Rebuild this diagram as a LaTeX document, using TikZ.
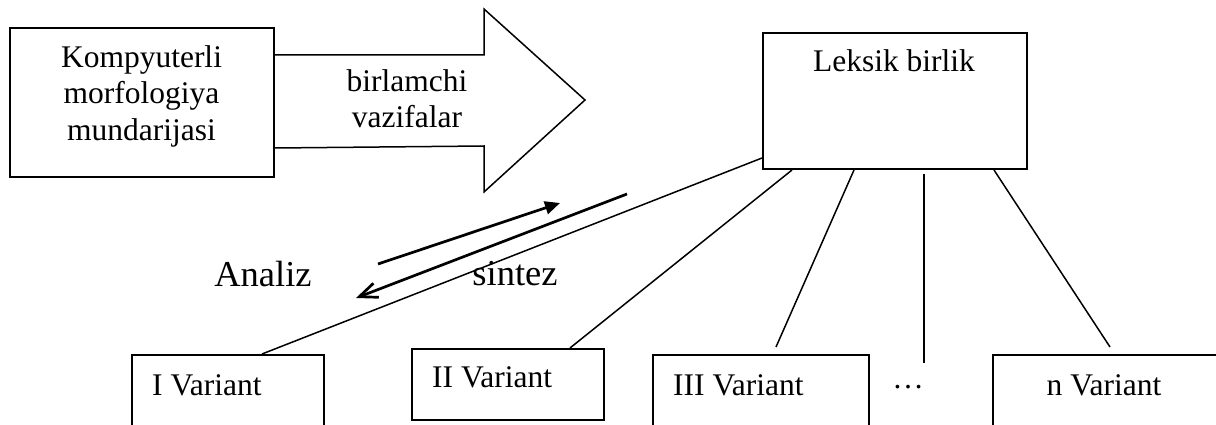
\documentclass[tikz,border=0pt]{standalone}
\usepackage{fontspec}
\setmainfont{Liberation Serif}
\usetikzlibrary{arrows.meta,calc}

\tikzset{
  box/.style={draw, line width=2pt, anchor=north west, inner sep=0pt},
  txt/.style={inner sep=0pt, font=\fontsize{31.5}{36.5}\selectfont},
  bigtxt/.style={inner sep=0pt, font=\fontsize{36.5}{42}\selectfont},
  link/.style={line width=1.5pt},
  flow/.style={line width=2.7pt},
}

\begin{document}
\begin{tikzpicture}[x=1pt, y=-1pt]
  \clip (0,0) rectangle (1216,425);

  % --- 1. top boxes ---
  \node[box, minimum width=264pt, minimum height=149pt] (morf) at (9,27) {};
  \node[box, minimum width=264pt, minimum height=136pt] (leksik) at (762,32) {};

  \node[txt, align=center] (morftxt) at (141.5,96.2) {Kompyuterli\\morfologiya\\mundarijasi};
  \node[txt, anchor=base] (leksiktxt) at (894,72) {Leksik birlik};

  % --- 2. the wide arrow coming out of the first box ---
  \draw[line width=1.5pt] ($(morf.north east)+(0,28)$) -- (484,55) -- (484,9)
    -- (585,100) -- (484,192) -- (484,146) -- ($(morf.south east)+(0,-30)$);
  \node[txt, align=center] (vazifa) at (407,98.8) {birlamchi\\vazifalar};

  % --- 3. variant boxes (bottom row, cut by the page edge) ---
  \node[box, minimum width=192pt, minimum height=90pt] (var1) at (131,354) {};
  \node[box, minimum width=192pt, minimum height=71pt] (var2) at (411,348) {};
  \node[box, minimum width=216pt, minimum height=90pt] (var3) at (652,354) {};
  \node[box, minimum width=230pt, minimum height=90pt] (varn) at (992,354) {};

  \node[txt, anchor=base west] (var1txt) at (152,395) {I Variant};
  \node[txt, anchor=base west] (var2txt) at (432,387) {II Variant};
  \node[txt, anchor=base west] (var3txt) at (673,395) {III Variant};
  \node[txt, anchor=base] (dots) at (908,388) {…};
  \node[txt, anchor=base] (varntxt) at (1104,395) {n Variant};

  % --- 4. lines from the lexical unit down to the variants ---
  \coordinate (dottop) at (924,174);
  \coordinate (dotbot) at (924,363);

  \draw[link] ($(leksik.south west)+(0,-12)$) -- ($(var1.north west)+(131,0)$);
  \draw[link] ($(leksik.south west)+(30,0)$) -- ($(var2.north west)+(159,0)$);
  \draw[link] ($(leksik.south west)+(92,0)$) -- ($(var3.north west)+(124,-7)$);
  \draw[link] (dottop) -- (dotbot);
  \draw[link] ($(leksik.south west)+(232,0)$) -- ($(varn.north west)+(118,-7)$);

  % --- 5. analysis / synthesis arrows ---
  \coordinate (sinA) at (378,264);
  \coordinate (sinB) at (560,203);
  \coordinate (anA) at (627,194);
  \coordinate (anB) at (356,298);

  \draw[flow, -{Triangle[length=15pt, width=13pt]}] (sinA) -- (sinB);
  \draw[flow, -{Straight Barb[length=18pt, width=15pt]}] (anA) -- (anB);

  \node[bigtxt, anchor=base] (analiz) at (263,286) {Analiz};
  \node[bigtxt, anchor=base] (sintez) at (515,285) {sintez};

\end{tikzpicture}
\end{document}
